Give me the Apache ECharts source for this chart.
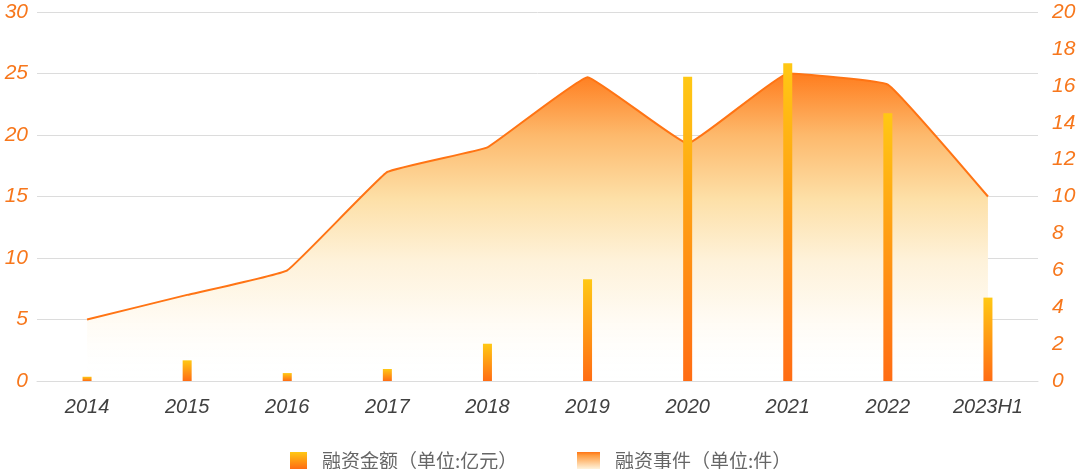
<!DOCTYPE html>
<html>
<head>
<meta charset="utf-8">
<script src="https://cdn.jsdelivr.net/npm/echarts@6/dist/echarts.min.js"></script>
<style>
  html, body { margin: 0; padding: 0; background: #fff; }
  #chart { width: 1080px; height: 469px; }
</style>
</head>
<body>
<div id="chart"></div>
<script>
// 数据
const years = ['2014', '2015', '2016', '2017', '2018', '2019', '2020', '2021', '2022', '2023H1']
const amount = [0.23, 1.12, 0.43, 0.65, 2.02, 5.51, 16.49, 17.22, 14.51, 4.52]   // 融资金额, 右轴
const events = [5, 7, 9, 17, 19, 24.7, 19.3, 25, 24.1, 15]                         // 融资事件, 左轴

const orange = '#f7771c'
const font = '"Liberation Sans", Arial, sans-serif'
const legendText = { fontSize: 19, lineHeight: 19, color: '#666', fontFamily: '"Noto Sans CJK SC", sans-serif', padding: [0, 0, 0, 10] }

const chart = echarts.init(document.getElementById('chart'))
chart.setOption({
  animation: false,
  grid: { left: 37, right: 42, top: 12, bottom: 88, containLabel: false, outerBoundsMode: 'none' },
  legend: [
    {
      left: 285,
      top: 446,
      itemWidth: 17,
      itemHeight: 17,
      textStyle: legendText,
      data: [{ name: '融资金额（单位:亿元）', icon: 'rect' }]
    },
    {
      left: 572,
      top: 446,
      itemWidth: 23,
      itemHeight: 17,
      textStyle: legendText,
      data: [{
        name: '融资事件（单位:件）',
        icon: 'rect',
        itemStyle: {
          color: new echarts.graphic.LinearGradient(0, 0, 0, 1, [
            { offset: 0, color: '#ff7414' },
            { offset: 0.2, color: '#ff9c40' },
            { offset: 1, color: '#fff3dc' }
          ])
        }
      }]
    }
  ],
  xAxis: {
    type: 'category',
    data: years,
    axisLine: { lineStyle: { color: '#dcdcdc' } },
    axisTick: { show: false },
    axisLabel: { color: '#404040', fontSize: 20, fontStyle: 'italic', fontFamily: font, margin: 16 }
  },
  yAxis: [
    {
      type: 'value',
      min: 0,
      max: 30,
      interval: 5,
      axisLine: { show: false },
      axisTick: { show: false },
      axisLabel: { color: orange, fontSize: 21, fontStyle: 'italic', fontFamily: font, margin: 9 },
      splitLine: { lineStyle: { color: '#dcdcdc', width: 1 } }
    },
    {
      type: 'value',
      min: 0,
      max: 20,
      interval: 2,
      axisLine: { show: false },
      axisTick: { show: false },
      axisLabel: { color: orange, fontSize: 21, fontStyle: 'italic', fontFamily: font, margin: 14 },
      splitLine: { show: false }
    }
  ],
  series: [
    {
      name: '融资事件（单位:件）',
      type: 'line',
      yAxisIndex: 0,
      data: events,
      smooth: 0.08,
      showSymbol: false,
      z: 1,
      lineStyle: { color: '#ff7414', width: 2 },
      itemStyle: { color: '#ff7414' },
      areaStyle: {
        opacity: 1,
        color: new echarts.graphic.LinearGradient(0, 0, 0, 1, [
          { offset: 0, color: '#ff7d1e' },
          { offset: 0.2, color: '#fdb96c' },
          { offset: 0.41, color: '#fde0a8' },
          { offset: 0.61, color: '#fef2da' },
          { offset: 0.8, color: '#fffbf3' },
          { offset: 1, color: 'rgba(255,255,255,0)' }
        ])
      }
    },
    {
      name: '融资金额（单位:亿元）',
      type: 'bar',
      yAxisIndex: 1,
      data: amount,
      barWidth: 9,
      z: 3,
      itemStyle: {
        color: new echarts.graphic.LinearGradient(0, 0, 0, 1, [
          { offset: 0, color: '#ffc814' },
          { offset: 1, color: '#ff6c14' }
        ])
      }
    }
  ]
})
</script>
</body>
</html>
